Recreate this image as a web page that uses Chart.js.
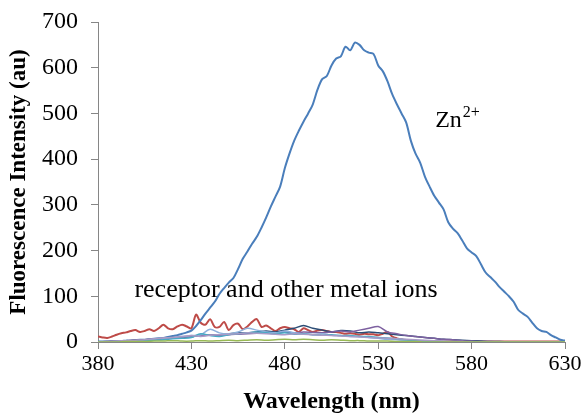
<!DOCTYPE html>
<html>
<head>
<meta charset="utf-8">
<script src="https://cdn.jsdelivr.net/npm/chart.js@4.4.1/dist/chart.umd.min.js"></script>
<style>
html,body{margin:0;padding:0;background:#fff;}
#wrap{width:585px;height:416px;}
</style>
</head>
<body>
<div id="wrap"><canvas id="chart" width="585" height="416"></canvas></div>
<script>
// wavelength grids (nm)
const wlFine = [380,382.5,385,387.5,390,392.5,395,397.5,400,402.5,
405,407.5,410,412.5,415,417.5,420,422.5,425,427.5,
430,432.5,435,437.5,440,442.5,445,447.5,450,452.5,
455,457.5,460,462.5,465,467.5,470,472.5,475,477.5,
480,482.5,485,487.5,490,492.5,495,497.5,500,502.5,
505,507.5,510,512.5,515,517.5,520,522.5,525,527.5,
530,532.5,535,537.5,540,542.5,545,547.5,550,552.5,
555,557.5,560,562.5,565,567.5,570,572.5,575,577.5,
580,582.5,585,587.5,590,592.5,595,597.5,600,602.5,
605,607.5,610,612.5,615,617.5,620,622.5,625,627.5,
630];
const wlCoarse = [380,385,390,395,400,405,410,415,420,425,
430,435,440,445,450,455,460,465,470,475,
480,485,490,495,500,505,510,515,520,525,
530,535,540,545,550,555,560,565,570,575,
580,585,590,595,600,605,610,615,620,625,
630];

// Zn2+ emission
const zinc = [1,1,1,2,2,2,3,3,4,5,
5,6,7,8,9,11,13,15,18,21,
25,35,48,62,75,88,105,118,130,140,
160,182,198,215,230,250,272,296,318,340,
380,412,440,462,482,500,520,552,575,582,
605,620,625,646,638,655,650,638,633,630,
605,592,570,542,520,500,480,440,412,392,
362,340,320,305,290,262,248,238,222,205,
196,188,170,152,142,132,120,110,100,88,
70,62,55,42,30,24,22,15,10,5,
3];

// receptor and other metal ions
const redIon = [12,10,9,12,16,19,21,24,26,22,
24,28,24,30,38,30,28,34,38,34,
30,60,42,38,50,33,33,44,26,37,
40,28,34,44,50,33,36,30,24,30,
33,30,28,22,30,26,22,25,26,24,
22,22,20,18,19,18,16,18,17,17,
15,18,22,12,8,6,3,2,1,1,
1,1,1,1,1,1,1,1,1,1,
1,1,1,1,1,1,1,1,1,1,
1,1,1,1,1,1,1,1,1,1,
1];
const navyIon = [0,1,2,3,4,5,6,8,10,10,
12,14,15,16,18,20,20,22,24,22,
26,30,36,30,26,22,25,24,20,22,
20,18,16,14,12,10,8,6,5,4,
3,2,1,1,0,0,0,0,0,0,
0];
const purpleIon = [0,1,2,3,4,5,6,8,9,10,
12,14,15,14,16,17,18,19,20,20,
22,20,22,21,20,22,24,22,26,30,
34,22,18,14,12,10,8,6,5,3,
2,1,1,0,0,0,0,0,0,0,
0];
const skyIon = [0,1,1,2,3,4,6,8,10,12,
14,16,28,20,18,22,30,26,22,20,
24,20,18,16,18,15,14,12,12,10,
8,6,5,3,2,1,1,0,0,0,
0,0,0,0,0,0,0,0,0,0,
0];
const cyanIon = [0,0,1,1,2,3,4,5,7,8,
10,18,14,12,16,18,20,22,20,18,
20,17,18,16,15,16,14,14,12,12,
10,9,7,5,3,2,1,1,0,0,
0,0,0,0,0,0,0,0,0,0,
0];
const lavenderIon = [0,1,2,3,4,5,7,9,10,12,
14,12,15,16,17,18,20,19,18,17,
16,18,17,16,15,14,13,12,11,10,
9,8,7,6,5,4,3,2,1,1,
0,0,0,0,0,0,0,0,0,0,
0];
const greenIon = [0,0,0,1,1,1,2,2,3,2,
2,3,2,3,4,3,4,5,4,5,
6,5,6,5,4,5,4,3,3,2,
2,2,1,1,1,0,0,0,0,0,
0,0,0,0,0,0,0,0,0,0,
0];

const yTicks = [0,100,200,300,400,500,600,700];
const xTicks = [380,430,480,530,580,630];

function pts(xs, ys){
  return xs.map((x, i) => ({x: x, y: ys[i]}));
}

function series(xs, ys, color, width){
  return {
    data: pts(xs, ys),
    borderColor: color,
    borderWidth: width,
    pointRadius: 0,
    tension: 0.3,
    fill: false
  };
}

const serif = "'Liberation Serif', 'Times New Roman', serif";

// free text labels placed in data coordinates
const textLabels = {
  id: 'textLabels',
  afterDatasetsDraw(chart){
    const c = chart.ctx;
    const xs = chart.scales.x, ys = chart.scales.y;
    c.save();
    c.fillStyle = '#000';
    c.textBaseline = 'alphabetic';
    c.textAlign = 'left';
    c.font = '26px ' + serif;
    c.fillText('receptor and other metal ions', xs.getPixelForValue(399.5), ys.getPixelForValue(99));
    const zx = xs.getPixelForValue(560.5), zy = ys.getPixelForValue(470);
    c.font = '24px ' + serif;
    c.fillText('Zn', zx, zy);
    const w = c.measureText('Zn').width;
    c.font = '16px ' + serif;
    c.fillText('2+', zx + w + 1, zy - 10);
    c.restore();
  }
};

new Chart(document.getElementById('chart'), {
  type: 'line',
  data: {
    datasets: [
      series(wlCoarse, greenIon, '#98B954', 1.5),
      series(wlCoarse, lavenderIon, '#A99BC6', 1.5),
      series(wlCoarse, cyanIon, '#46AAC5', 1.5),
      series(wlCoarse, skyIon, '#8DB0DC', 1.5),
      series(wlCoarse, purpleIon, '#7D60A0', 1.5),
      series(wlCoarse, navyIon, '#2C4D75', 1.5),
      series(wlFine, zinc, '#4A7EBB', 2),
      series(wlFine, redIon, '#BE4B48', 2)
    ]
  },
  options: {
    responsive: false,
    animation: false,
    layout: {padding: {top: 22, right: 20, left: 0, bottom: 0}},
    plugins: {legend: {display: false}, tooltip: {enabled: false}},
    scales: {
      x: {
        type: 'linear',
        min: 380, max: 630,
        afterBuildTicks: s => { s.ticks = xTicks.map(v => ({value: v})); },
        ticks: {color: '#000', font: {family: serif, size: 22}, padding: 2, maxRotation: 0},
        grid: {drawOnChartArea: false, color: '#868686', tickLength: 7},
        border: {color: '#868686'},
        title: {display: true, text: 'Wavelength (nm)', color: '#000',
          font: {family: serif, size: 24, weight: 'bold'}, padding: {top: 4, bottom: 0}},
        afterFit: s => { s.height = 74; s.paddingLeft = 0; s.paddingRight = 0; }
      },
      y: {
        min: 0, max: 700,
        afterBuildTicks: s => { s.ticks = yTicks.map(v => ({value: v})); },
        ticks: {color: '#000', font: {family: serif, size: 24}, padding: 13},
        grid: {drawOnChartArea: false, color: '#868686', tickLength: 7},
        border: {color: '#868686'},
        title: {display: true, text: 'Fluorescence Intensity (au)', color: '#000',
          font: {family: serif, size: 23, weight: 'bold'}, padding: {top: 5, bottom: 0}},
        afterFit: s => { s.width = 98; s.paddingTop = 0; s.paddingBottom = 0; }
      }
    }
  },
  plugins: [textLabels]
});
</script>
</body>
</html>
